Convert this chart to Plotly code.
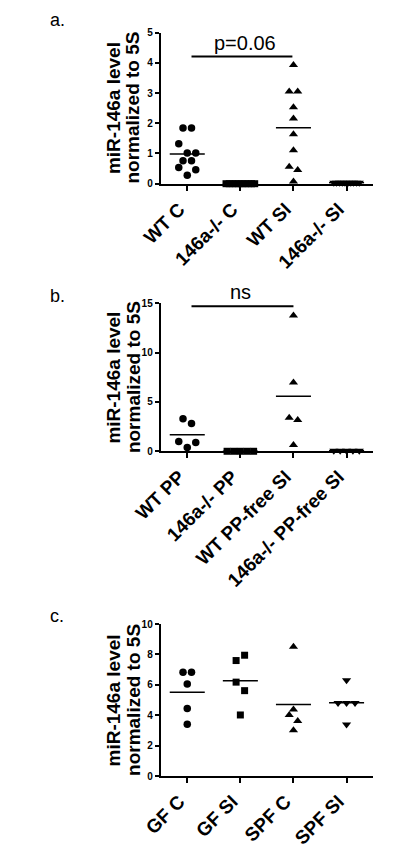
import numpy as np
import plotly.graph_objects as go

# ---- data ----
labels_a = ["WT C", "146a-/- C", "WT SI", "146a-/- SI"]
a_wt_c = [1.84, 1.84, 1.32, 1.02, 1.02, 0.76, 0.76, 0.54, 0.46, 0.28]
a_wt_c_dx = [-0.08, 0.08, -0.16, 0, 0.16, -0.08, 0.08, -0.16, 0.16, 0]
a_ko_c = [0, 0, 0, 0, 0, 0, 0, 0, 0, 0]
a_ko_c_dx = [-0.27, -0.21, -0.15, -0.09, -0.03, 0.03, 0.09, 0.15, 0.21, 0.27]
a_wt_si = [3.93, 3.05, 3.05, 2.53, 2.16, 1.64, 1.11, 0.56, 0.45, 0.07]
a_wt_si_dx = [0, -0.08, 0.08, 0, 0, 0, 0, -0.08, 0.08, 0]
a_ko_si = [0.03, 0.03, 0.03, 0.03, 0.03, 0.03, 0.03, 0.03, 0.03, 0.03]
a_ko_si_dx = [-0.24, -0.19, -0.13, -0.08, -0.03, 0.03, 0.08, 0.13, 0.19, 0.24]

labels_b = ["WT PP", "146a-/- PP", "WT PP-free SI", "146a-/- PP-free SI"]
b_wt_pp = [3.3, 2.8, 1.0, 0.9, 0.37]
b_wt_pp_dx = [-0.08, 0.08, -0.16, 0.16, 0]
b_ko_pp = [0, 0, 0, 0, 0]
b_ko_pp_dx = [-0.25, -0.125, 0, 0.125, 0.25]
b_wt_si = [13.75, 6.97, 3.39, 3.16, 0.63]
b_wt_si_dx = [0, 0, -0.08, 0.08, 0]
b_ko_si = [0.05, 0.05, 0.05, 0.05, 0.05]
b_ko_si_dx = [-0.24, -0.12, 0, 0.12, 0.24]

labels_c = ["GF C", "GF SI", "SPF C", "SPF SI"]
c_gf_c = [6.83, 6.83, 6.05, 4.45, 3.41]
c_gf_c_dx = [-0.08, 0.08, 0, 0, 0]
c_gf_si = [7.95, 7.6, 6.18, 5.62, 4.02]
c_gf_si_dx = [0.08, -0.08, -0.08, 0.08, 0]
c_spf_c = [8.5, 4.38, 4.02, 3.63, 3.02]
c_spf_c_dx = [0, 0, -0.08, 0.08, 0]
c_spf_si = [6.3, 4.8, 4.8, 4.8, 3.4]
c_spf_si_dx = [0, -0.16, 0, 0.16, 0]

FONT = "Liberation Sans, Arial, sans-serif"
symbols = ["circle", "square", "triangle-up", "triangle-down"]
sizes = [7.5, 7, 8, 8]

fig = go.Figure()


def add_panel(n, groups, dxs, syms):
    xa = "x" if n == 1 else f"x{n}"
    ya = "y" if n == 1 else f"y{n}"
    for i, (vals, dx, s) in enumerate(zip(groups, dxs, syms)):
        fig.add_trace(go.Scatter(
            x=[i + d for d in dx], y=vals, mode="markers", xaxis=xa, yaxis=ya,
            marker=dict(symbol=symbols[s], size=sizes[s], color="black"),
            cliponaxis=False, showlegend=False, hoverinfo="y"))
        m = float(np.mean(vals))
        fig.add_trace(go.Scatter(
            x=[i - 0.33, i + 0.33], y=[m, m], mode="lines", xaxis=xa, yaxis=ya,
            line=dict(color="black", width=1.5), cliponaxis=False,
            showlegend=False, hoverinfo="skip"))


add_panel(1, [a_wt_c, a_ko_c, a_wt_si, a_ko_si],
          [a_wt_c_dx, a_ko_c_dx, a_wt_si_dx, a_ko_si_dx], [0, 1, 2, 3])
add_panel(2, [b_wt_pp, b_ko_pp, b_wt_si, b_ko_si],
          [b_wt_pp_dx, b_ko_pp_dx, b_wt_si_dx, b_ko_si_dx], [0, 1, 2, 3])
add_panel(3, [c_gf_c, c_gf_si, c_spf_c, c_spf_si],
          [c_gf_c_dx, c_gf_si_dx, c_spf_c_dx, c_spf_si_dx], [0, 1, 2, 3])

xdom = [142 / 400, 371 / 400]
ydoms = [[1 - 181 / 868, 1 - 28 / 868],
         [1 - 452 / 868, 1 - 302 / 868],
         [1 - 781 / 868, 1 - 627 / 868]]
yranges = [[0, 5], [0, 15], [0, 10]]
ydticks = [1, 5, 2]
xlabels = [labels_a, labels_b, labels_c]

layout = dict(
    width=400, height=868, margin=dict(l=0, r=0, t=0, b=0),
    paper_bgcolor="white", plot_bgcolor="white",
    font=dict(family=FONT, color="black"),
)
for k in range(3):
    sfx = "" if k == 0 else str(k + 1)
    layout["xaxis" + sfx] = dict(
        domain=xdom, range=[-0.5, 3.5], anchor="y" + sfx,
        tickvals=[0, 1, 2, 3], ticktext=xlabels[k], tickangle=-45,
        tickfont=dict(family=FONT, size=19, color="black", weight="bold"),
        ticklabelshift=-8,
        showline=True, linewidth=2, linecolor="black",
        ticks="outside", ticklen=5, tickwidth=2, tickcolor="black",
        showgrid=False, zeroline=False, fixedrange=True)
    layout["yaxis" + sfx] = dict(
        domain=ydoms[k], range=yranges[k], anchor="x" + sfx,
        dtick=ydticks[k], tick0=0,
        tickfont=dict(family=FONT, size=10, color="black", weight="bold"),
        showline=True, linewidth=2, linecolor="black",
        ticks="outside", ticklen=4, tickwidth=1.5, tickcolor="black",
        showgrid=False, zeroline=False, fixedrange=True)
fig.update_layout(**layout)

# significance bars
fig.add_shape(type="line", xref="x", yref="y", x0=0.08, x1=1.98, y0=4.21, y1=4.21,
              line=dict(color="black", width=2))
fig.add_annotation(xref="x", yref="paper", x=1.08, y=1 - 38 / 868, text="p=0.06",
                   showarrow=False, yanchor="middle",
                   font=dict(family=FONT, size=20, color="black"))
fig.add_shape(type="line", xref="x2", yref="y2", x0=0.08, x1=2.0, y0=14.7, y1=14.7,
              line=dict(color="black", width=2))
fig.add_annotation(xref="x2", yref="paper", x=1.0, y=1 - 291 / 868, text="ns",
                   showarrow=False, yanchor="middle",
                   font=dict(family=FONT, size=20, color="black"))

# y axis titles and panel letters
centers = [104, 377, 704]
letters = ["a.", "b.", "c."]
letter_y = [15, 295, 619]
for k in range(3):
    for xpx, txt in [(91, "miR-146a level"), (112, "normalized to 5S")]:
        fig.add_annotation(xref="paper", yref="paper", x=xpx / 400, y=1 - centers[k] / 868,
                           text=txt, showarrow=False, textangle=-90,
                           xanchor="center", yanchor="middle",
                           font=dict(family=FONT, size=19, color="black", weight="bold"))
    fig.add_annotation(xref="paper", yref="paper", x=20 / 400, y=1 - letter_y[k] / 868,
                       text=letters[k], showarrow=False, xanchor="left", yanchor="middle",
                       font=dict(family=FONT, size=18, color="black"))

fig.write_html("out.html", config={"displayModeBar": False},
               post_script="document.body.style.margin='0';")
